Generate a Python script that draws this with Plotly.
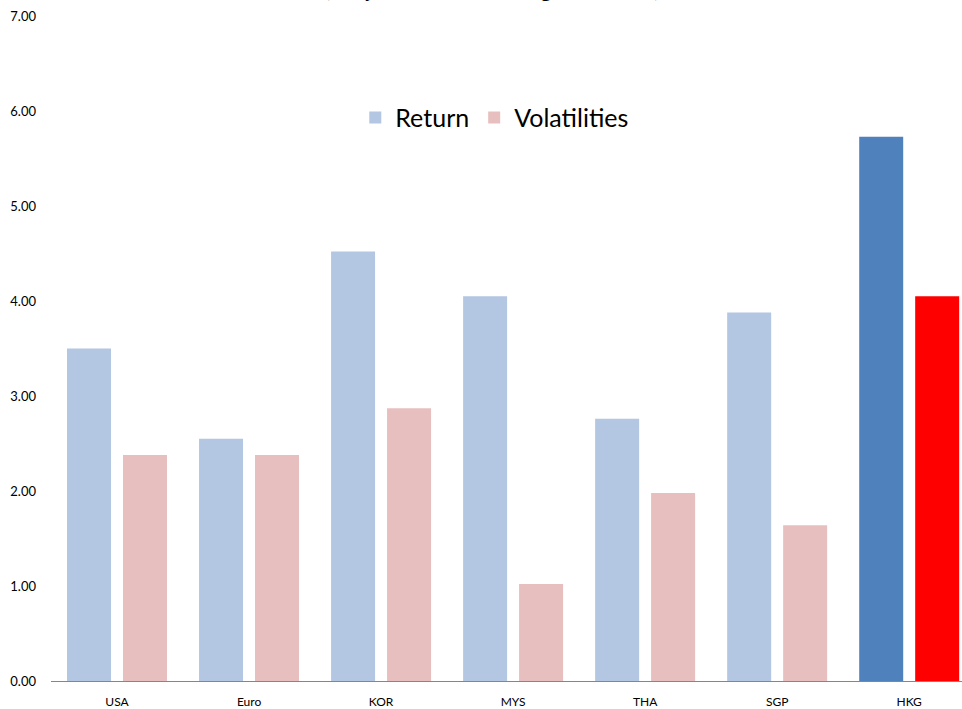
import plotly.graph_objects as go

categories = ["USA", "Euro", "KOR", "MYS", "THA", "SGP", "HKG"]
returns = [3.50, 2.55, 4.52, 4.05, 2.76, 3.88, 5.73]
volatilities = [2.38, 2.38, 2.87, 1.02, 1.98, 1.64, 4.05]
return_colors = ["#B3C6E2"] * 6 + ["#4F81BD"]
vol_colors = ["#E6BFBE"] * 6 + ["#FF0000"]
title_text = "(Daily Returns and Average Volatilities)"

fig = go.Figure()
fig.add_trace(go.Bar(name="Return", x=categories, y=returns,
                     marker=dict(color=return_colors, line=dict(width=0))))
fig.add_trace(go.Bar(name="Volatilities", x=categories, y=volatilities,
                     marker=dict(color=vol_colors, line=dict(width=0))))

fig.update_layout(
    width=962, height=709,
    margin=dict(l=51, r=0, t=16, b=26),
    paper_bgcolor="white", plot_bgcolor="white",
    barmode="group", bargap=0.152, bargroupgap=0.214,
    showlegend=True,
    legend=dict(orientation="h", x=0.334, xanchor="left", y=0.847, yanchor="middle",
                font=dict(family="Lato", size=25, color="#000000"),
                bgcolor="rgba(0,0,0,0)", traceorder="normal"),
    xaxis=dict(range=[-0.5, 6.40], showgrid=False, zeroline=False,
               showline=True, linecolor="#868686", linewidth=1,
               ticks="", tickfont=dict(family="Lato", size=12, color="#000000"),
               ticklabelstandoff=10),
    yaxis=dict(range=[0, 7], dtick=1, tickformat=".2f", showgrid=False,
               zeroline=False, showline=False, ticks="",
               tickfont=dict(family="Lato", size=13, color="#000000"),
               ticklabelstandoff=14),
    annotations=[dict(text="<b>" + title_text + "</b>", xref="paper", yref="paper",
                      x=(492 - 51) / 911, xanchor="center", y=1 + (16 - 3) / 667,
                      yanchor="bottom", showarrow=False,
                      font=dict(family="Liberation Serif", size=20, color="#000000"))],
)

fig.write_html("out.html", config={"displayModeBar": False},
               post_script="document.body.style.margin='0';")
